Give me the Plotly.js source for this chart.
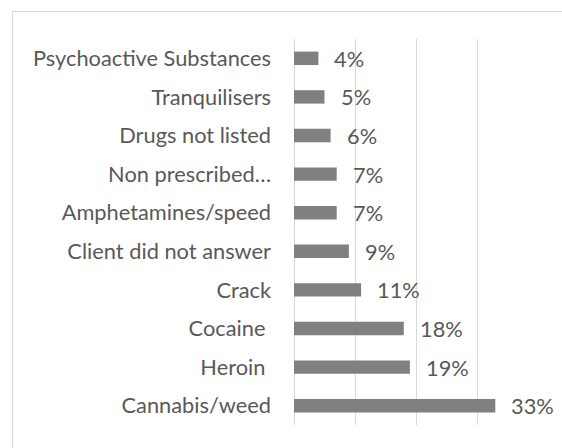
<!DOCTYPE html>
<html>
<head>
<meta charset="utf-8">
<script src="https://cdn.plot.ly/plotly-3.0.1.min.js"></script>
<style>
  html, body { margin: 0; padding: 0; background: #ffffff; overflow: hidden; }
  #frame { position: absolute; left: 12px; top: 11px; width: 700px; height: 600px; border: 1px solid #d9d9d9; }
  #chart { position: absolute; left: 0; top: 0; width: 562px; height: 448px; }
</style>
</head>
<body>
<div id="frame"></div>
<div id="chart"></div>
<script>
const categories = ["Cannabis/weed", "Heroin\u00a0", "Cocaine\u00a0", "Crack", "Client did not answer",
  "Amphetamines/speed", "Non prescribed\u2026", "Drugs not listed", "Tranquilisers", "Psychoactive Substances"];
const percentages = [33, 19, 18, 11, 9, 7, 7, 6, 5, 4];
const valueLabels = ["33%", "19%", "18%", "11%", "9%", "7%", "7%", "6%", "5%", "4%"];

const textColor = "#595959";
const fontFamily = "Lato, 'Noto Sans', sans-serif";
const fontSize = 21.8;

const trace = {
  type: "bar",
  orientation: "h",
  x: percentages,
  y: categories,
  marker: { color: "#808080" },
  hoverinfo: "none"
};

const annotations = categories.map((c, i) => ({
  x: percentages[i], y: c, xref: "x", yref: "y",
  text: valueLabels[i], showarrow: false,
  xanchor: "left", yanchor: "middle", xshift: 14,
  font: { family: fontFamily, size: fontSize, color: textColor }
}));

const layout = {
  width: 562, height: 448,
  margin: { l: 293.5, r: 23.5, t: 39, b: 23, pad: 0 },
  paper_bgcolor: "rgba(0,0,0,0)",
  plot_bgcolor: "rgba(0,0,0,0)",
  bargap: 0.653,
  showlegend: false,
  font: { family: fontFamily, size: fontSize, color: textColor },
  xaxis: {
    range: [0, 40], dtick: 10, showticklabels: false,
    showgrid: true, gridcolor: "#d9d9d9", gridwidth: 1,
    zeroline: true, zerolinecolor: "#d9d9d9", zerolinewidth: 1,
    showline: false, fixedrange: true
  },
  yaxis: {
    type: "category", categoryorder: "array", categoryarray: categories,
    showgrid: false, zeroline: false, showline: false, ticks: "",
    ticklabelstandoff: 22,
    tickfont: { family: fontFamily, size: fontSize, color: textColor },
    fixedrange: true
  },
  annotations: annotations
};

Plotly.newPlot("chart", [trace], layout, { displayModeBar: false, staticPlot: true });
</script>
</body>
</html>
